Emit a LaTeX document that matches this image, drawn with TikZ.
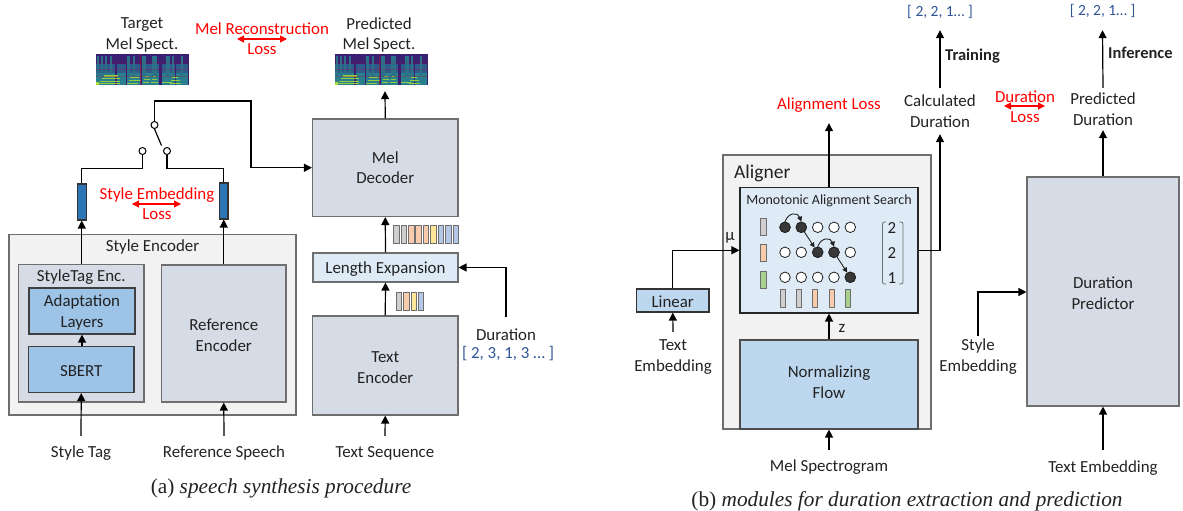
\documentclass[tikz,border=0pt]{standalone}
\usepackage{fontspec}
\setmainfont{Carlito}
\newfontfamily\capfont{Liberation Serif}
\usetikzlibrary{arrows.meta,positioning,calc}
\definecolor{boxgray}{HTML}{D6DCE5}
\definecolor{lightgray}{HTML}{F2F2F2}
\definecolor{midblue}{HTML}{9DC3E6}
\definecolor{paleblue}{HTML}{DEEBF7}
\definecolor{flowblue}{HTML}{BDD7EE}
\definecolor{embblue}{HTML}{2E75B6}
\definecolor{edgegray}{HTML}{6E6E6E}
\definecolor{numblue}{HTML}{2F5597}
\definecolor{inkblack}{HTML}{222222}
\definecolor{barg}{HTML}{D0CECE}
\definecolor{baro}{HTML}{F8CBAD}
\definecolor{bary}{HTML}{FFE699}
\definecolor{barb}{HTML}{B4C7E7}
\definecolor{barv}{HTML}{A9D18E}
\definecolor{specbg}{HTML}{3A1F72}
\definecolor{specmid}{HTML}{2A7F8E}
\definecolor{specdim}{HTML}{2F5A8C}
\definecolor{spechi}{HTML}{A8DB34}
\newcommand{\dn}{\rule{0pt}{15pt}}
\tikzset{
  x=1pt,y=-1pt,
  lab/.style={inner sep=0pt,yshift=-1pt,align=center,font=\fontsize{16.9}{20.5}\selectfont,text=inkblack},
  redlab/.style={lab,text=red},
  numlab/.style={lab,text=numblue},
  blk/.style={draw=edgegray,line width=1.1pt,inner sep=0pt,align=center,font=\fontsize{16.9}{20.5}\selectfont,text=inkblack},
  arr/.style={-{Triangle[length=8pt,width=8pt]},line width=1.2pt,black},
  wire/.style={line width=1.2pt,black},
  redarr/.style={{Triangle[length=7pt,width=7pt]}-{Triangle[length=7pt,width=7pt]},line width=1.1pt,red},
  bar/.style={draw=edgegray,line width=.9pt},
  dotw/.style={circle,draw=inkblack,fill=white,line width=.8pt,minimum size=10.5pt,inner sep=0pt},
  dotb/.style={circle,draw=inkblack,fill=inkblack!90,line width=.8pt,minimum size=10.5pt,inner sep=0pt},
  sw/.style={circle,draw=black,fill=white,line width=1pt,minimum size=7pt,inner sep=0pt},
  figcap/.style={font=\capfont\fontsize{21.3}{24}\selectfont,inner sep=0pt,text=inkblack},
  spec/.pic={
    \fill[specbg] (0,0) rectangle (93,31);
    % formant bands
    \foreach \a/\b in {0/19,21/30,31/45,46/63,66/79,80/92}{
      \fill[specdim] (\a,10) rectangle (\b,31);
      \fill[specmid] (\a,19) rectangle (\b,31);}
    % tall voiced columns
    \foreach \a/\b in {1/3,5/7,9/11,14/16,31/34,37/39,46/50,56/61,70/74,76/78,85/87}{
      \fill[specmid!85!specbg] (\a,2) rectangle (\b,22);}
    % harmonics
    \foreach \a/\b/\c in {1/24/29,4/24/26.5,6/24/24,8/22/21.5,31/42/29,33/45/26,34/43/23,47/53/28,48/54/25,49/53/22,55/62/28,56/61/25,57/60/22,66/76/28,74/85/29,75/84/26,76/82/23}{
      \fill[spechi,opacity=.85] (\a,\c) rectangle (\b,\c+1.1);}
    \fill[spechi] (0,28) rectangle (3,31);
    \fill[red!60!specbg,opacity=.6] (44,0) rectangle (44.6,31);
    \foreach \c in {8,15,22}{\fill[red!60!specbg,opacity=.3] (0,\c) rectangle (93,\c+.6);}
  }
}
\begin{document}
\begin{tikzpicture}
\useasboundingbox (0,0) rectangle (1183,511);
% ---- (a) boxes
\node[blk,fill=lightgray,minimum width=287pt,minimum height=180.5pt] (senc) at (152.5,324.75) {};
\node[lab] (senct) at (152.5,246) {Style Encoder};
\node[blk,fill=boxgray,minimum width=125.5pt,minimum height=137.3pt] (tagenc) at (81.25,333.35) {};
\node[lab] (tagenct) at (81.25,276) {StyleTag Enc.};
\node[blk,draw=black!75,fill=midblue,minimum width=106pt,minimum height=46pt] (adapt) at (82,311) {\dn Adaptation\\Layers};
\node[blk,draw=black!75,fill=midblue,minimum width=105.5pt,minimum height=46pt] (sbert) at (81.25,369.5) {\dn SBERT};
\node[blk,fill=boxgray,minimum width=124.5pt,minimum height=137pt] (refenc) at (223.75,333.5) {\dn Reference\\Encoder};
\node[blk,draw=black!80,fill=embblue,minimum width=9pt,minimum height=36pt] (embl) at (81.75,202) {};
\node[blk,draw=black!80,fill=embblue,minimum width=8.5pt,minimum height=36pt] (embr) at (223.75,201) {};
\node[sw] (swtop) at (154.5,125) {};
\node[sw] (swl) at (142.5,151) {};
\node[sw] (swr) at (167,151) {};
\coordinate (levend) at (161.5,145.5);
\node[blk,fill=boxgray,minimum width=145.5pt,minimum height=97.5pt] (dec) at (385.25,167.75) {Mel\\Decoder};
\node[blk,fill=paleblue,minimum width=145pt,minimum height=29pt] (lenx) at (385.5,267.5) {\dn Length Expansion};
\node[blk,fill=boxgray,minimum width=145.5pt,minimum height=99pt] (tenc) at (385.25,365.5) {\dn Text\\Encoder};
% spectrograms
\node[minimum width=93pt,minimum height=31pt,inner sep=0pt] (tspec) at (142.5,69.5) {};
\pic at (96,54) {spec};
\node[minimum width=93pt,minimum height=31pt,inner sep=0pt] (pspec) at (381.5,69.5) {};
\pic at (335,54) {spec};
% ---- (a) labels
\node[lab] (ttarget) at (142,34) {Target\\Mel Spect.};
\node[lab] (tpred) at (379,34) {Predicted\\Mel Spect.};
\node[redlab] (mrl) at (262,28) {Mel Reconstruction};
\node[redlab] (mrl2) at (262,48) {Loss};
\coordinate (mrla) at (237,39); \coordinate (mrlb) at (287,39);
\draw[redarr] (mrla) -- (mrlb);
\node[redlab] (sel) at (157,194) {Style Embedding};
\node[redlab] (sel2) at (157,213) {Loss};
\coordinate (sela) at (132,204); \coordinate (selb) at (181,204);
\draw[redarr] (sela) -- (selb);
\node[lab,minimum height=34pt] (stag) at (81,452) {Style Tag};
\node[lab,minimum height=34pt] (rsp) at (224,452) {Reference Speech};
\node[lab,minimum height=34pt] (tseq) at (385,452) {Text Sequence};
\node[lab,minimum height=36pt] (dur) at (506,334) {Duration};
\node[numlab] (durv) at (508,353) {[ 2, 3, 1, 3 … ]};
\node[figcap] (capa) at (281,488) {(a) \textit{speech synthesis procedure}};
% ---- (a) connectors
\draw[arr] (tagenc.north -| embl) -- (embl.south);
\draw[arr] (refenc.north) -- (embr.south);
\draw[arr] (sbert.north -| adapt) -- (adapt.south);
\draw[arr] (stag.north) -- (sbert.south);
\draw[arr] (rsp.north) -- (refenc.south);
\draw[arr] (tseq.north) -- (tenc.south);
\draw[arr] (tenc.north) -- (lenx.south);
\draw[arr] (lenx.north) -- (dec.south);
\draw[arr] (dec.north) -- ($(pspec.south)+(3.5,6)$);
\draw[arr] (dur.north) |- (lenx.east);
\draw[wire] (embl.north) -- ++(0,-15) -| (swl.south);
\draw[wire] (embr.north) -- ++(0,-14) -| (swr.south);
\draw[wire] (swtop.south) -- (levend);
\draw[arr] (swtop.north) -- ++(0,-20) -- ++(96.5,0) |- (dec.west);
% bars (a)
\foreach \i/\c in {0/barg,1/barg,2/baro,3/baro,4/baro,5/bary,6/barb,7/barb,8/barb}{
  \draw[bar,fill=\c] (393.5+\i*7.45,225) rectangle ++(5.6,18);}
\foreach \i/\c in {0/barg,1/baro,2/bary,3/barb}{
  \draw[bar,fill=\c] (396.3+\i*7.35,292) rectangle ++(5.4,18);}
% ---- (b) boxes
\node[blk,fill=lightgray,minimum width=208pt,minimum height=274pt] (alig) at (827,292) {};
\node[lab,anchor=west,font=\fontsize{19.5}{22}\selectfont] (aligt) at (734,172) {Aligner};
\node[blk,draw=black!85,fill=paleblue,minimum width=178pt,minimum height=125.5pt] (mas) at (829,250.25) {};
\node[lab,font=\fontsize{14}{17}\selectfont] (mast) at (829,200) {Monotonic Alignment Search};
\node[blk,fill=flowblue,draw=black!70,minimum width=178pt,minimum height=89pt] (flow) at (829,384.5) {};
\node[lab] (flowt) at (829,381) {Normalizing\\Flow};
\node[blk,draw=black!80,fill=flowblue,minimum width=72.5pt,minimum height=23pt] (lin) at (672.75,300.5) {\dn Linear};
\node[blk,fill=boxgray,minimum width=152pt,minimum height=229pt] (dpred) at (1103,291.5) {\dn Duration\\Predictor};
% MAS contents
\foreach \y/\c [count=\r from 0] in {218/barg,244/baro,271/barv}{
  \draw[bar,fill=\c] (760.5,\y) rectangle ++(5.5,17.5);}
\foreach \x/\c in {783/barg,799/barg,815/baro,832/baro,848/barv}{
  \draw[bar,fill=\c] (\x-2.8,289) rectangle ++(5.6,18);}
\foreach \r/\y in {0/227.3,1/252.3,2/277.3}{
  \foreach \k/\x in {0/785,1/801.3,2/817.7,3/834,4/850.3}{
    \node[dotw] (c\r\k) at (\x,\y) {};}}
\node[dotb] (c00) at (785,227.3) {};
\node[dotb] (c01) at (801.3,227.3) {};
\node[dotb] (c12) at (817.7,252.3) {};
\node[dotb] (c13) at (834,252.3) {};
\node[dotb] (c24) at (850.3,277.3) {};
\tikzset{small/.style={-{Triangle[length=5pt,width=5pt]},line width=.9pt,inkblack}}
\draw[small] (c00.north) to[out=70,in=110,looseness=1.6] (c01.north);
\draw[small] (c12.north) to[out=70,in=110,looseness=1.6] (c13.north);
\draw[small] (c01) -- (c12);
\draw[small] (c13) -- (c24);
\node[lab] (m0) at (892,227) {2};
\node[lab] (m1) at (892,252) {2};
\node[lab] (m2) at (892,277) {1};
\draw[line width=.8pt,edgegray,rounded corners=2pt] (886,222) -- (882.5,222) -- (882.5,284) -- (886,284);
\draw[line width=.8pt,edgegray,rounded corners=2pt] (899,222) -- (903,222) -- (903,284) -- (899,284);
% ---- (b) labels
\node[redlab,minimum height=36pt] (aloss) at (829,104) {Alignment Loss};
\node[lab,minimum height=46pt] (cdur) at (940,110) {Calculated\\Duration};
\node[lab,minimum height=42pt] (pdur) at (1103,108) {Predicted\\Duration};
\node[numlab,font=\fontsize{15.5}{18}\selectfont,minimum height=36pt] (cvals) at (940,11) {[ 2, 2, 1… ]};
\node[numlab,font=\fontsize{15.5}{18}\selectfont,minimum height=38pt] (pvals) at (1102.5,10) {[ 2, 2, 1… ]};
\node[lab,anchor=west,font=\fontsize{16.5}{18}\selectfont\bfseries] (ttrain) at (945,55) {Training};
\node[lab,anchor=west,font=\fontsize{16.5}{18}\selectfont\bfseries] (tinf) at (1108,52) {Inference};
\node[redlab] (dl) at (1025,96) {Duration};
\node[redlab] (dl2) at (1025,116) {Loss};
\coordinate (dla) at (1004,106); \coordinate (dlb) at (1045,106);
\draw[redarr] (dla) -- (dlb);
\node[lab] (mu) at (730,237) {μ};
\node[lab] (zz) at (842,327) {z};
\node[lab,minimum height=50pt] (temb) at (673,356) {Text\\Embedding};
\node[lab,minimum height=41pt] (semb) at (978,355.5) {Style\\Embedding};
\node[lab,minimum height=34pt] (mspec) at (829,466) {Mel Spectrogram};
\node[lab,minimum height=36pt] (temb2) at (1103,467) {Text Embedding};
\node[figcap] (capb) at (907,501) {(b) \textit{modules for duration extraction and prediction}};
% ---- (b) connectors
\draw[arr] (mas.north) -- (aloss.south);
\draw[arr] (mas.east) -| (cdur.south);
\draw[arr] (cdur.north) -- (cvals.south);
\draw[arr] (pdur.north) -- (pvals.south);
\draw[arr] (dpred.north) -- (pdur.south);
\draw[arr] (flow.north) -- (mas.south);
\draw[arr] (mspec.north) -- (flow.south);
\draw[arr] (lin.north) |- (mas.west);
\draw[arr] (temb.north) -- (lin.south);
\draw[arr] (semb.north) |- ($(dpred.west)+(0,0.5)$);
\draw[arr] (temb2.north) -- (dpred.south);
\end{tikzpicture}
\end{document}
